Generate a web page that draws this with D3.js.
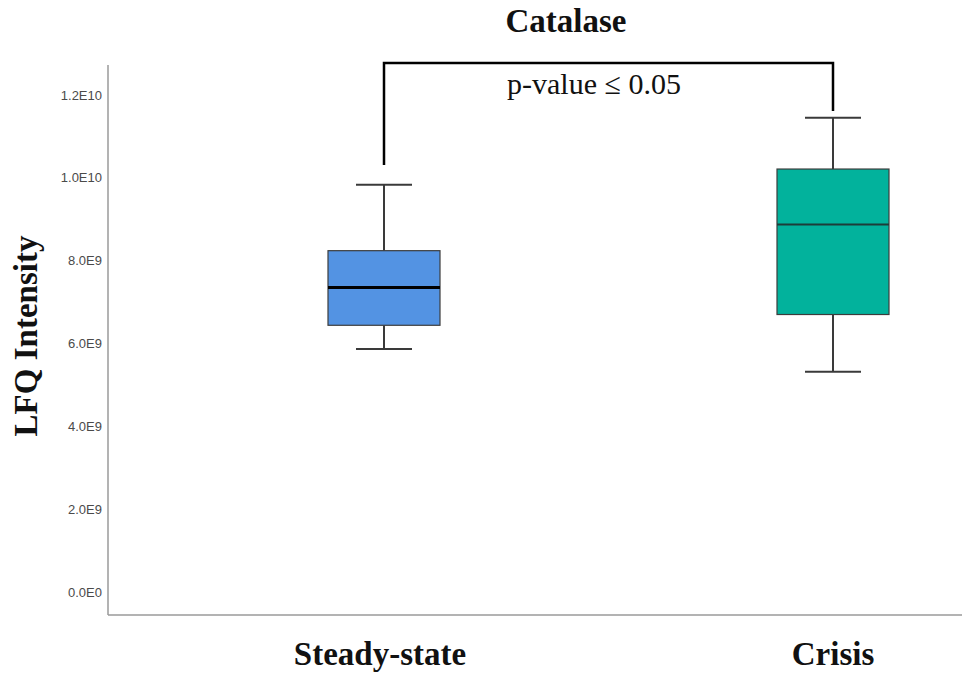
<!DOCTYPE html>
<html>
<head>
<meta charset="utf-8">
<script src="https://cdn.jsdelivr.net/npm/d3@7"></script>
<style>
  html, body { margin: 0; padding: 0; background: #fff; }
  svg { display: block; }
</style>
</head>
<body>
<svg id="chart" width="964" height="673"></svg>
<script>
// ---- data ----
const categories = ["Steady-state", "Crisis"];
const whiskerLow  = [5.87e9, 5.32e9];
const q1          = [6.44e9, 6.70e9];
const median      = [7.35e9, 8.87e9];
const q3          = [8.24e9, 10.21e9];
const whiskerHigh = [9.83e9, 11.45e9];
const boxColors   = ["#5393E3", "#02B29C"];
const tickValues  = [0, 2e9, 4e9, 6e9, 8e9, 1e10, 1.2e10];
const tickLabels  = ["0.0E0", "2.0E9", "4.0E9", "6.0E9", "8.0E9", "1.0E10", "1.2E10"];
const bracketTop  = 1.277e10;
const bracketEnds = [1.031e10, 1.161e10];
const title = "Catalase";
const yTitle = "LFQ Intensity";
const sigLabel = "p-value \u2264 0.05";

// ---- layout ----
const svg = d3.select("#chart");
const axisX = 108, axisBottom = 615, axisTop = 65, axisRight = 962;

const y = d3.scaleLinear().domain([-5.5e8, 1.272e10]).range([axisBottom, axisTop]);
const x = d3.scalePoint().domain(categories).range([384, 833]);
const boxW = 112, capW = 56;

// axes lines
svg.append("line").attr("x1", axisX).attr("x2", axisX).attr("y1", axisTop).attr("y2", axisBottom)
  .attr("stroke", "#9a9a9a").attr("stroke-width", 1.5);
svg.append("line").attr("x1", axisX).attr("x2", axisRight).attr("y1", axisBottom).attr("y2", axisBottom)
  .attr("stroke", "#9a9a9a").attr("stroke-width", 1.5);

// y axis ticks
const yAxis = d3.axisLeft(y).tickValues(tickValues).tickSize(0).tickPadding(0)
  .tickFormat((d, i) => tickLabels[i]);
const gy = svg.append("g").attr("transform", `translate(${axisX - 6},0)`).call(yAxis);
gy.select(".domain").remove();
gy.selectAll("text").attr("font-family", "Liberation Sans, Arial, sans-serif")
  .attr("font-size", 13).attr("fill", "#4a4a4a");

// boxes
const data = categories.map((c, i) => ({
  c, lo: whiskerLow[i], q1: q1[i], med: median[i], q3: q3[i], hi: whiskerHigh[i], color: boxColors[i], i
}));

const g = svg.append("g");
data.forEach(d => {
  const cx = x(d.c);
  // whiskers
  g.append("line").attr("x1", cx).attr("x2", cx).attr("y1", y(d.hi)).attr("y2", y(d.q3))
    .attr("stroke", "#3a3a3a").attr("stroke-width", 2);
  g.append("line").attr("x1", cx).attr("x2", cx).attr("y1", y(d.q1)).attr("y2", y(d.lo))
    .attr("stroke", "#3a3a3a").attr("stroke-width", 2);
  g.append("line").attr("x1", cx - capW / 2).attr("x2", cx + capW / 2).attr("y1", y(d.hi)).attr("y2", y(d.hi))
    .attr("stroke", "#3a3a3a").attr("stroke-width", 2);
  g.append("line").attr("x1", cx - capW / 2).attr("x2", cx + capW / 2).attr("y1", y(d.lo)).attr("y2", y(d.lo))
    .attr("stroke", "#3a3a3a").attr("stroke-width", 2);
  // box
  g.append("rect").attr("x", cx - boxW / 2).attr("width", boxW)
    .attr("y", y(d.q3)).attr("height", y(d.q1) - y(d.q3))
    .attr("fill", d.color).attr("stroke", "#3c3c3c").attr("stroke-width", 1.2);
  // median
  g.append("line").attr("x1", cx - boxW / 2).attr("x2", cx + boxW / 2).attr("y1", y(d.med)).attr("y2", y(d.med))
    .attr("stroke", d.i === 0 ? "#000" : "#1d3d38").attr("stroke-width", d.i === 0 ? 3 : 2);
});

// significance bracket
const bx0 = x(categories[0]), bx1 = x(categories[1]);
svg.append("path")
  .attr("d", `M${bx0},${y(bracketEnds[0])}L${bx0},${y(bracketTop)}L${bx1},${y(bracketTop)}L${bx1},${y(bracketEnds[1])}`)
  .attr("fill", "none").attr("stroke", "#000").attr("stroke-width", 2.5);
svg.append("text").attr("x", 594).attr("y", 94).attr("text-anchor", "middle")
  .attr("font-family", "Liberation Serif, Times New Roman, serif").attr("font-size", 30)
  .attr("fill", "#111").text(sigLabel);

// title
svg.append("text").attr("x", 566).attr("y", 32).attr("text-anchor", "middle")
  .attr("font-family", "Liberation Serif, Times New Roman, serif").attr("font-size", 33)
  .attr("font-weight", "bold").attr("fill", "#111").text(title);

// x labels
svg.append("g").selectAll("text").data(categories).join("text")
  .attr("x", d => x(d) - (d === categories[0] ? 4 : 0)).attr("y", 665).attr("text-anchor", "middle")
  .attr("font-family", "Liberation Serif, Times New Roman, serif").attr("font-size", 33)
  .attr("font-weight", "bold").attr("fill", "#111").text(d => d);

// y title
svg.append("text").attr("transform", "translate(37,336) rotate(-90)").attr("text-anchor", "middle")
  .attr("font-family", "Liberation Serif, Times New Roman, serif").attr("font-size", 33)
  .attr("font-weight", "bold").attr("fill", "#111").text(yTitle);
</script>
</body>
</html>
